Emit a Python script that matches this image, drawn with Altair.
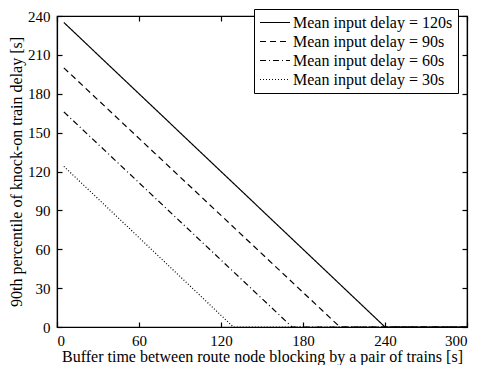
import altair as alt
import pandas as pd

series = [
    "Mean input delay = 120s",
    "Mean input delay = 90s",
    "Mean input delay = 60s",
    "Mean input delay = 30s",
]
x_120 = [5, 240, 300]
y_120 = [235, 0, 0]
x_90 = [5, 207, 300]
y_90 = [200, 0, 0]
x_60 = [5, 172, 300]
y_60 = [166, 0, 0]
x_30 = [5, 129, 300]
y_30 = [124, 0, 0]
x_ticks = [0, 60, 120, 180, 240, 300]
y_ticks = [0, 30, 60, 90, 120, 150, 180, 210, 240]

rows = []
for name, xs, ys in zip(series, [x_120, x_90, x_60, x_30], [y_120, y_90, y_60, y_30]):
    for xv, yv in zip(xs, ys):
        rows.append({"series": name, "x": xv, "y": yv})
df = pd.DataFrame(rows)

FONT = "Liberation Serif"
inward = alt.ExprRef("-5")

xscale = alt.Scale(domain=[0, 300], nice=False, zero=False)
yscale = alt.Scale(domain=[0, 240], nice=False, zero=False)

lines = alt.Chart(df).mark_line(color="black", strokeWidth=1.2).encode(
    x=alt.X("x:Q", scale=xscale,
            axis=alt.Axis(orient="bottom", values=x_ticks, tickSize=inward, labelPadding=11,
                          title="Buffer time between route node blocking by a pair of trains [s]",
                          titlePadding=0)),
    y=alt.Y("y:Q", scale=yscale,
            axis=alt.Axis(orient="left", values=y_ticks, tickSize=inward, labelPadding=12,
                          title="90th percentile of knock-on train delay [s]",
                          titlePadding=3)),
    strokeDash=alt.StrokeDash(
        "series:N",
        scale=alt.Scale(domain=series, range=[[1, 0], [6, 4], [6, 3, 1, 3], [1, 2]]),
        legend=alt.Legend(
            title=None, orient="none", legendX=197, legendY=-7,
            symbolType="M-1,0H3", symbolSize=225, symbolStrokeColor="black",
            symbolStrokeWidth=1.2, labelFont=FONT, labelFontSize=16, labelColor="black",
            labelOffset=17, labelLimit=0, strokeColor="black", fillColor="white",
            padding=5, rowPadding=2,
        ),
    ),
)

mirror = alt.Chart(df).mark_point(opacity=0).encode(
    x=alt.X("x:Q", scale=xscale,
            axis=alt.Axis(orient="top", values=x_ticks, tickSize=inward, labels=False, title=None)),
    y=alt.Y("y:Q", scale=yscale,
            axis=alt.Axis(orient="right", values=y_ticks, tickSize=inward, labels=False, title=None)),
)

chart = alt.layer(lines, mirror).resolve_axis(x="independent", y="independent").properties(
    width=410, height=311,
    autosize=alt.AutoSizeParams(type="none"),
    padding={"left": 49, "top": 8, "right": 3, "bottom": 38},
).configure_view(stroke="black", strokeWidth=1.2).configure_axis(
    grid=False, domainColor="black", domainWidth=1.2, tickColor="black", tickWidth=1.2,
    labelFont=FONT, labelFontSize=15,
    labelColor="black", titleFont=FONT, titleFontSize=16, titleFontWeight="normal",
    titleColor="black",
)

chart.save("out.html", embed_options={"renderer": "svg", "actions": False})
